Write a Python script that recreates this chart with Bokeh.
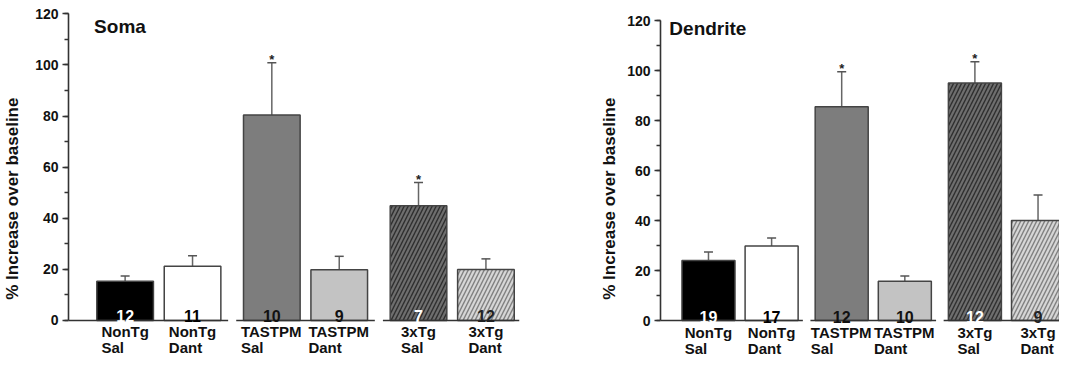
from bokeh.plotting import figure
from bokeh.models import (Range1d, ColumnDataSource, Whisker, TeeHead,
                          Label, SingleIntervalTicker)
from bokeh.layouts import row
from bokeh.embed import file_html
from bokeh.resources import INLINE
from bokeh.core.properties import value

# ---------------- data ----------------
groups = ["NonTg", "NonTg", "TASTPM", "TASTPM", "3xTg", "3xTg"]
treatments = ["Sal", "Dant", "Sal", "Dant", "Sal", "Dant"]

soma_mean = [15.3, 21.2, 80.4, 19.8, 44.9, 19.9]
soma_sem = [2.1, 4.1, 20.4, 5.3, 9.1, 4.2]
soma_n = [12, 11, 10, 9, 7, 12]
soma_sig = [False, False, True, False, True, False]

dend_mean = [24.0, 29.8, 85.5, 15.7, 95.0, 40.0]
dend_sem = [3.4, 3.2, 14.0, 2.1, 8.5, 10.2]
dend_n = [19, 17, 12, 10, 12, 9]
dend_sig = [False, False, True, False, True, False]

y_label = "% Increase over baseline"

# ---------------- styles ----------------
FONT = "Liberation Sans"
XLAB_PX = 15
FIG_H = 356
fills = ["#000000", "#ffffff", "#7d7d7d", "#c3c3c3", "#6e6e6e", "#d6d6d6"]
hatches = [" ", " ", " ", " ", "/", "/"]
hatch_cols = ["#000000", "#000000", "#000000", "#000000", "#2e2e2e", "#808080"]
num_cols = ["#ffffff", "#000000", "#111111", "#111111", "#ffffff", "#222222"]
NBSP = "\u00a0"

# approximate Arial-bold advance widths (em) used to centre left-aligned label blocks
_W = {"N": .722, "o": .611, "n": .611, "T": .611, "g": .611, "A": .722, "S": .667,
      "P": .667, "M": .833, "3": .556, "x": .556, "a": .556, "l": .278, "D": .722,
      "t": .333}


def _w(s):
    return sum(_W.get(c, .556) for c in s)


def positions(extra):
    order = list(dict.fromkeys(groups))
    gidx = {g: i for i, g in enumerate(order)}
    return [i + gidx[g] * extra for i, g in enumerate(groups)]


def make_panel(title, mean, sem, n, sig, width, bl, br, y_start, y_end,
               x_start, x_end, extra, title_x, title_y, ystand):
    pos = positions(extra)
    p = figure(width=width, height=FIG_H, output_backend="svg", toolbar_location=None,
               x_range=Range1d(x_start, x_end), y_range=Range1d(y_start, y_end),
               x_axis_location=None,
               min_border_left=bl, min_border_right=br, min_border_top=12,
               min_border_bottom=0)
    p.outline_line_color = None
    p.grid.visible = False
    p.background_fill_color = "white"
    p.border_fill_color = "white"

    src = ColumnDataSource(dict(
        x=pos, m=mean, t=[a + b for a, b in zip(mean, sem)],
        n=[str(v) for v in n], fill=fills, hatch=hatches, hcol=hatch_cols,
        ncol=num_cols, grp=groups, trt=treatments,
        xo=[-max(_w(g), _w(t)) * XLAB_PX / 2 for g, t in zip(groups, treatments)]))

    # baseline segments per group
    order = list(dict.fromkeys(groups))
    seg_x0, seg_x1 = [], []
    for gi, g in enumerate(order):
        idx = [i for i, gg in enumerate(groups) if gg == g]
        if gi == 0:
            s0 = x_start
        else:
            prev = [i for i, gg in enumerate(groups) if gg == order[gi - 1]][-1]
            s0 = (pos[prev] + pos[idx[0]]) / 2 + 0.06
        if gi == len(order) - 1:
            s1 = x_end
        else:
            nxt = [i for i, gg in enumerate(groups) if gg == order[gi + 1]][0]
            s1 = (pos[idx[-1]] + pos[nxt]) / 2 - 0.06
        seg_x0.append(s0)
        seg_x1.append(s1)

    p.vbar(x="x", top="m", bottom=0, width=0.84, source=src,
           fill_color="fill", line_color="#444444", line_width=1.5,
           hatch_pattern="hatch", hatch_color="hcol", hatch_scale=8,
           hatch_weight=1.4)

    w = Whisker(source=src, base="x", lower="m", upper="t", dimension="height",
                line_color="#666666", line_width=1.5,
                upper_head=TeeHead(size=9, line_color="#555555", line_width=1.5),
                lower_head=None)
    p.add_layout(w)

    p.segment(x0=seg_x0, x1=seg_x1, y0=[0] * len(seg_x0), y1=[0] * len(seg_x0),
              line_color="#333333", line_width=1.6)

    p.text(x="x", y=0, text="n", source=src, text_color="ncol",
           text_font=value(FONT), text_font_style="bold", text_font_size="16px",
           text_align="center", text_baseline="alphabetic", y_offset=-4)

    sx = [pos[i] for i in range(len(pos)) if sig[i]]
    sy = [mean[i] + sem[i] for i in range(len(pos)) if sig[i]]
    p.text(x=sx, y=sy, text=["*"] * len(sx), text_color="#222222",
           text_font=value(FONT), text_font_style="bold", text_font_size="13px",
           text_align="center", text_baseline="alphabetic", y_offset=-3)

    # category labels under the baseline (left-aligned two-line blocks)
    p.text(x="x", y=0, text="grp", source=src, x_offset="xo", y_offset=3,
           text_font=value(FONT), text_font_style="bold",
           text_font_size=f"{XLAB_PX}px", text_color="#111111",
           text_align="left", text_baseline="top")
    p.text(x="x", y=0, text="trt", source=src, x_offset="xo", y_offset=19,
           text_font=value(FONT), text_font_style="bold",
           text_font_size=f"{XLAB_PX}px", text_color="#111111",
           text_align="left", text_baseline="top")

    p.add_layout(Label(x=title_x, y=title_y, text=title, text_font=FONT,
                       text_font_style="bold", text_font_size="19px",
                       text_color="#111111", text_baseline="middle"))

    # y axis
    ya = p.yaxis[0]
    ya.ticker = SingleIntervalTicker(interval=20, num_minor_ticks=2)
    ya.bounds = (0, 120)
    ya.axis_line_color = "#333333"
    ya.axis_line_width = 1.6
    ya.major_tick_line_color = "#333333"
    ya.major_tick_line_width = 1.4
    ya.minor_tick_line_color = "#333333"
    ya.minor_tick_line_width = 1.4
    ya.major_tick_in = 0
    ya.major_tick_out = 6
    ya.minor_tick_in = 0
    ya.minor_tick_out = 4
    ya.major_label_text_font = FONT
    ya.major_label_text_font_style = "bold"
    ya.major_label_text_font_size = "14px"
    ya.major_label_text_color = "#111111"
    ya.major_label_standoff = 4
    # trailing no-break spaces shift the visible label down, as in the original
    ya.axis_label = y_label + NBSP * 6
    ya.axis_label_text_font = FONT
    ya.axis_label_text_font_style = "bold"
    ya.axis_label_text_font_size = "17px"
    ya.axis_label_text_color = "#111111"
    ya.axis_label_standoff = ystand
    return p


left = make_panel("Soma", soma_mean, soma_sem, soma_n, soma_sig,
                  width=560, bl=64, br=41, y_start=-14.1, y_end=120.5,
                  x_start=-0.84, x_end=5.85, extra=0.176,
                  title_x=-0.46, title_y=115.0, ystand=10)
right = make_panel("Dendrite", dend_mean, dend_sem, dend_n, dend_sig,
                   width=499, bl=100, br=0, y_start=-14.4, y_end=123.2,
                   x_start=-0.76, x_end=5.56, extra=0.11,
                   title_x=-0.62, title_y=116.8, ystand=5)

layout = row(left, right, spacing=0)
open("out.html", "w").write(file_html(layout, INLINE))
